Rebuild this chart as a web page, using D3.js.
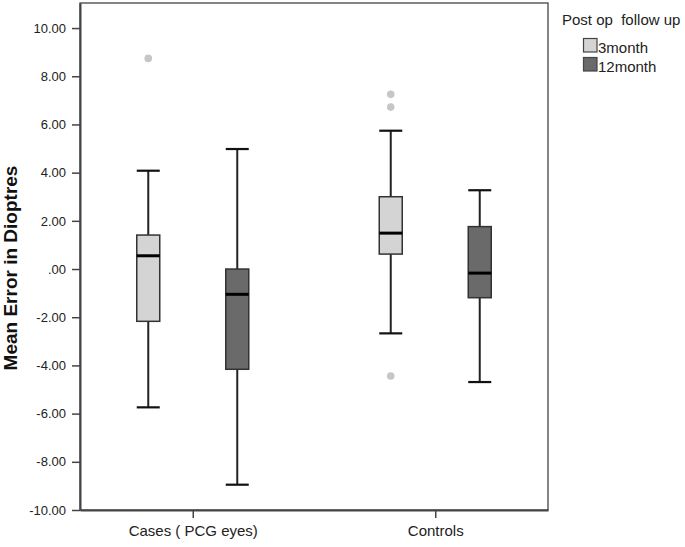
<!DOCTYPE html>
<html><head><meta charset="utf-8">
<script src="https://cdn.jsdelivr.net/npm/d3@7"></script>
<style>body{margin:0;background:#fff;} svg{display:block;font-family:"Liberation Sans",Arial,sans-serif;}</style>
</head><body>
<svg id="chart" width="685" height="547"></svg>
<script>
const categories = ["Cases ( PCG eyes)", "Controls"];
const seriesNames = ["3month", "12month"];
const seriesColors = ["#d4d4d4", "#6a6a6a"];
// [lowerWhisker, Q1, median, Q3, upperWhisker]
const month3Stats = [[-5.74, -2.17, 0.55, 1.41, 4.08], [-2.67, 0.62, 1.49, 3.0, 5.74]];
const month12Stats = [[-8.95, -4.16, -1.05, 0.0, 4.98], [-4.69, -1.19, -0.17, 1.76, 3.27]];
const month3Outliers = [[8.74], [7.25, 6.72, -4.44]];
const month12Outliers = [[], []];
const yTicks = [-10, -8, -6, -4, -2, 0, 2, 4, 6, 8, 10];
const yTitle = "Mean Error in Dioptres";
const legendTitle = "Post op  follow up";

(function () {
const svg = d3.select("#chart");
const mLeft = 80, mRight = 548, mTop = 3, mBottom = 510;
const y = d3.scaleLinear().domain([-10, 11.04]).range([mBottom, mTop]);
const x = d3.scalePoint().domain(categories).range([mLeft, mRight]).padding(0.465);
const sub = d3.scalePoint().domain(seriesNames).range([-44.5, 44.5]);
const boxW = 23, capW = 23;

// frame
svg.append("rect").attr("x", mLeft).attr("y", mTop).attr("width", mRight - mLeft).attr("height", mBottom - mTop)
  .attr("fill", "none").attr("stroke", "#444").attr("stroke-width", 1.3);

// y axis
const fmt = d => d === 0 ? ".00" : d3.format(".2f")(d).replace("\u2212", "-");
const yAxis = svg.append("g").attr("transform", `translate(${mLeft},0)`)
  .call(d3.axisLeft(y).tickValues(yTicks).tickSize(8).tickSizeOuter(0).tickPadding(6).tickFormat(fmt));
yAxis.select(".domain").attr("stroke", "#444").attr("stroke-width", 2);
yAxis.selectAll(".tick line").attr("stroke", "#444").attr("stroke-width", 1.5);
yAxis.selectAll(".tick text").attr("font-size", 13).attr("fill", "#222").attr("font-family", "Liberation Sans, Arial, sans-serif");

// x axis
const xAxis = svg.append("g").attr("transform", `translate(0,${mBottom})`)
  .call(d3.axisBottom(x).tickSize(8).tickSizeOuter(0).tickPadding(7));
xAxis.select(".domain").attr("stroke", "#444").attr("stroke-width", 2);
xAxis.selectAll(".tick line").attr("stroke", "#444").attr("stroke-width", 1.5);
xAxis.selectAll(".tick text").attr("font-size", 15).attr("fill", "#222").attr("font-family", "Liberation Sans, Arial, sans-serif");

// y title
svg.append("text").attr("transform", `translate(17,268) rotate(-90)`)
  .attr("text-anchor", "middle").attr("font-size", 19).attr("font-weight", "bold").attr("fill", "#111")
  .text(yTitle);

const allStats = [month3Stats, month12Stats];
const allOut = [month3Outliers, month12Outliers];
seriesNames.forEach((s, si) => {
  categories.forEach((c, ci) => {
    const st = allStats[si][ci];
    const cx = x(c) + sub(s);
    const g = svg.append("g");
    g.append("line").attr("x1", cx).attr("x2", cx).attr("y1", y(st[3])).attr("y2", y(st[4]))
      .attr("stroke", "#222").attr("stroke-width", 2);
    g.append("line").attr("x1", cx).attr("x2", cx).attr("y1", y(st[0])).attr("y2", y(st[1]))
      .attr("stroke", "#222").attr("stroke-width", 2);
    [st[0], st[4]].forEach(v => g.append("line").attr("x1", cx - capW / 2).attr("x2", cx + capW / 2)
      .attr("y1", y(v)).attr("y2", y(v)).attr("stroke", "#111").attr("stroke-width", 2.2));
    g.append("rect").attr("x", cx - boxW / 2).attr("y", y(st[3])).attr("width", boxW)
      .attr("height", y(st[1]) - y(st[3])).attr("fill", seriesColors[si]).attr("stroke", "#333").attr("stroke-width", 1.5);
    g.append("line").attr("x1", cx - boxW / 2).attr("x2", cx + boxW / 2).attr("y1", y(st[2])).attr("y2", y(st[2]))
      .attr("stroke", "#000").attr("stroke-width", 3);
    allOut[si][ci].forEach(v => g.append("circle").attr("cx", cx).attr("cy", y(v)).attr("r", 3.8)
      .attr("fill", "#c6c6c6"));
  });
});

// legend
const lg = svg.append("g");
lg.append("text").attr("x", 562).attr("y", 25).attr("font-size", 15).attr("fill", "#222")
  .style("white-space", "pre").attr("xml:space", "preserve").text(legendTitle);
seriesNames.forEach((s, i) => {
  lg.append("rect").attr("x", 583.5).attr("y", 38.5 + i * 19).attr("width", 13.5).attr("height", 13.5)
    .attr("fill", seriesColors[i]).attr("stroke", "#444").attr("stroke-width", 1.2);
  lg.append("text").attr("x", 598).attr("y", 53 + i * 19).attr("font-size", 15).attr("fill", "#222").text(s);
});
})();
</script>
</body></html>
